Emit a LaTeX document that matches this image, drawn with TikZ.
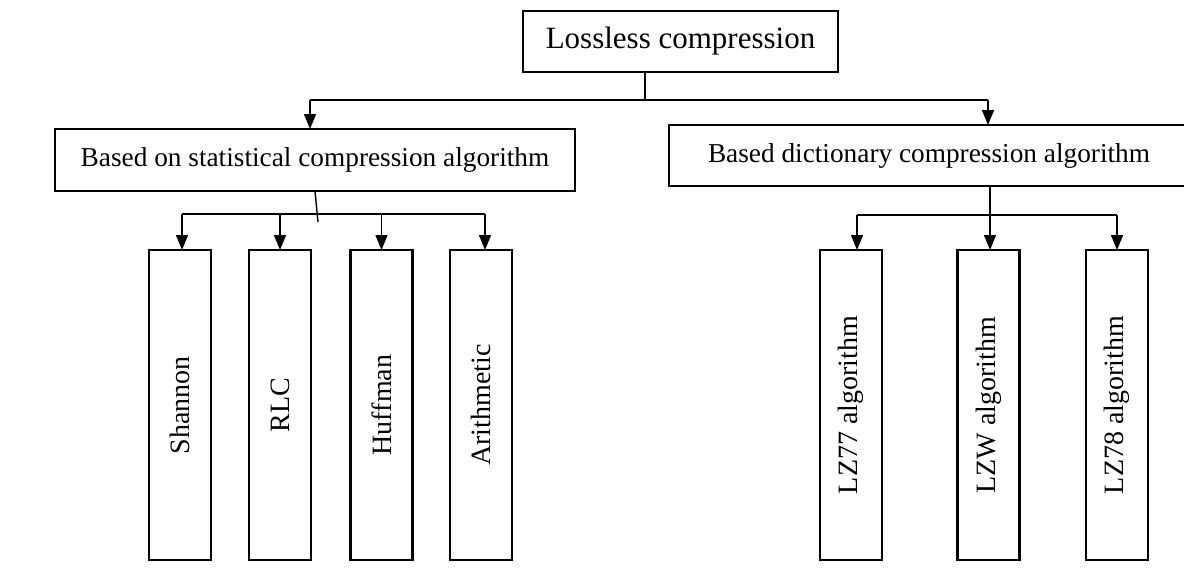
\documentclass[tikz,border=0pt]{standalone}
\usepackage{fontspec}
\usepackage{graphicx}
\setmainfont{Liberation Serif}
\usetikzlibrary{arrows.meta}

\begin{document}
\begin{tikzpicture}[x=1pt, y=-1pt,
  box/.style={draw=black, line width=2.4pt, fill=white, inner sep=0pt, outer sep=0pt},
  toplevel/.style={box, minimum width=315pt, minimum height=61pt,
    font=\fontsize{31}{37}\selectfont},
  midlevel/.style={box, minimum width=520pt, minimum height=62pt,
    font=\fontsize{27.3}{33}\selectfont},
  leaf/.style={box, minimum width=62pt, minimum height=310pt,
    font=\fontsize{28}{34}\selectfont},
  link/.style={draw=black, line width=1.4pt},
  arrowlink/.style={link, -{Triangle[length=15pt, width=12pt]}}
]
\useasboundingbox (0,0) rectangle (1184,574);
\clip (0,0) rectangle (1184,574);

% root
\node[toplevel] (root) at (680.5,41.5) {Lossless compression};

% two families
\node[midlevel] (stat) at (315,160) {Based on statistical compression algorithm};
\node[midlevel, minimum width=520pt, minimum height=61pt] (dict) at (929,155.5) {Based dictionary compression algorithm};

% statistical leaves
\node[leaf] (shannon) at (180,405) {\rotatebox{90}{Shannon}};
\node[leaf] (rlc)     at (280,405) {\rotatebox{90}{RLC}};
\node[leaf] (huffman) at (381.5,405) {\rotatebox{90}{Huffman}};
\node[leaf] (arith)   at (481,405) {\rotatebox{90}{Arithmetic}};

% dictionary leaves
\node[leaf] (lzss)  at (851,405) {\rotatebox{90}{LZ77 algorithm}};
\node[leaf] (lzw)   at (988.5,405) {\rotatebox{90}{LZW algorithm}};
\node[leaf] (lzeight) at (1117,405) {\rotatebox{90}{LZ78 algorithm}};

% junction points
\coordinate (rootj) at (645,100);
\coordinate (rootl) at (310,100);
\coordinate (rootr) at (988,100);
\coordinate (statj) at (318,222);
\coordinate (statl) at (182,214);
\coordinate (statr) at (485,214);
\coordinate (dictj) at (990,215);
\coordinate (dictl) at (857,215);
\coordinate (dictr) at (1117,215);

% root to families
\draw[link] (root.south -| rootj) -- (rootj);
\draw[link] (rootl) -- (rootr);
\draw[arrowlink] (rootl) -- (rootl |- stat.north);
\draw[arrowlink] (rootr) -- (rootr |- dict.north);

% statistical branch
\draw[link] (315,191) -- (statj);
\draw[link] (statl) -- (statr);
\draw[arrowlink] (statl) -- (statl |- shannon.north);
\draw[arrowlink] (280,214) -- (rlc.north);
\draw[arrowlink] (381.5,214) -- (huffman.north);
\draw[arrowlink] (statr) -- (statr |- arith.north);

% dictionary branch
\draw[link] (dict.south -| dictj) -- (dictj);
\draw[link] (dictl) -- (dictr);
\draw[arrowlink] (dictl) -- (dictl |- lzss.north);
\draw[arrowlink] (dictj) -- (dictj |- lzw.north);
\draw[arrowlink] (dictr) -- (lzeight.north);
\end{tikzpicture}
\end{document}
